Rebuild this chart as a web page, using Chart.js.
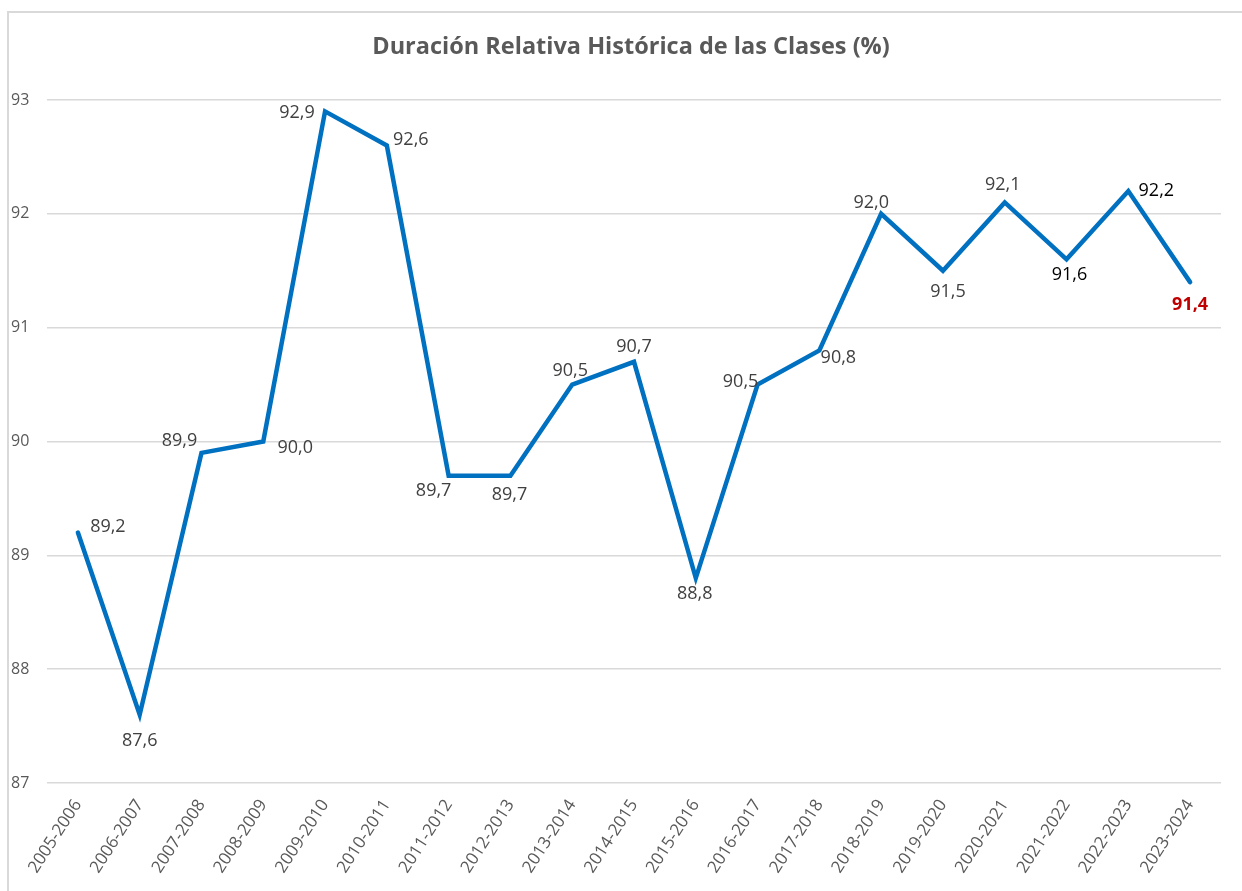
<!DOCTYPE html>
<html>
<head>
<meta charset="utf-8">
<script src="https://cdn.jsdelivr.net/npm/chart.js@4.4.1/dist/chart.umd.min.js"></script>
<style>
  html, body { margin: 0; padding: 0; background: #ffffff; overflow: hidden; }
  #frame { position: absolute; left: 7px; top: 11px; width: 1400px; height: 1000px;
           border-top: 2px solid #d9d9d9; border-left: 2px solid #d9d9d9; }
  #wrap { position: absolute; left: 0; top: 0; width: 1242px; height: 891px; }
</style>
</head>
<body>
<div id="frame"></div>
<div id="wrap"><canvas id="c" width="1242" height="891"></canvas></div>
<script>
// ---- data ----
const categories = ['2005-2006','2006-2007','2007-2008','2008-2009','2009-2010','2010-2011','2011-2012','2012-2013','2013-2014','2014-2015','2015-2016','2016-2017','2017-2018','2018-2019','2019-2020','2020-2021','2021-2022','2022-2023','2023-2024'];
const duracion = [89.2, 87.6, 89.9, 90.0, 92.9, 92.6, 89.7, 89.7, 90.5, 90.7, 88.8, 90.5, 90.8, 92.0, 91.5, 92.1, 91.6, 92.2, 91.4];
const yTicks = [87, 88, 89, 90, 91, 92, 93];
const chartTitle = 'Duración Relativa Histórica de las Clases (%)';

// ---- label styling (offsets from each point, in px) ----
const labelOffsets = [[30,-6],[0,26],[-22,-12],[32,6],[-28,1],[24,-6],[-15,15],[-1,19],[-2,-14],[0,-15],[-1,16],[-17,-3],[19,7],[-10,-11],[5,21],[-2,-18],[3,16],[28,0],[0,23]];
const labelColors = ['#404040','#404040','#404040','#404040','#404040','#404040','#404040','#404040','#404040','#404040','#404040','#404040','#404040','#404040','#404040','#404040','#000000','#000000','#C00000'];
const labelBold = [false,false,false,false,false,false,false,false,false,false,false,false,false,false,false,false,false,false,true];

const FONT = "'Open Sans', 'DejaVu Sans', sans-serif";

const titleText = {
  id: 'titleText',
  afterDraw(chart) {
    const ctx = chart.ctx;
    ctx.save();
    ctx.font = 'bold 23.5px ' + FONT;
    ctx.fillStyle = '#595959';
    ctx.textAlign = 'center';
    ctx.textBaseline = 'middle';
    ctx.fillText(chartTitle, 631, 47);
    ctx.restore();
  }
};

const dataLabels = {
  id: 'dataLabels',
  afterDatasetsDraw(chart) {
    const ctx = chart.ctx;
    const meta = chart.getDatasetMeta(0);
    ctx.save();
    ctx.textAlign = 'center';
    ctx.textBaseline = 'middle';
    meta.data.forEach((pt, i) => {
      const v = chart.data.datasets[0].data[i];
      const txt = v.toFixed(1).replace('.', ',');
      ctx.font = (labelBold[i] ? 'bold ' : '') + '18px ' + FONT;
      ctx.fillStyle = labelColors[i];
      ctx.fillText(txt, pt.x + labelOffsets[i][0], pt.y + labelOffsets[i][1]);
    });
    ctx.restore();
  }
};

new Chart(document.getElementById('c'), {
  type: 'line',
  data: {
    labels: categories,
    datasets: [{
      data: duracion,
      borderColor: '#0070C0',
      borderWidth: 4.5,
      pointRadius: 0,
      tension: 0,
      borderJoinStyle: 'miter',
      borderCapStyle: 'round',
      fill: false
    }]
  },
  options: {
    responsive: false,
    animation: false,
    devicePixelRatio: 1,
    layout: { padding: { left: 11, right: 21, top: 100, bottom: 0 } },
    plugins: {
      legend: { display: false },
      tooltip: { enabled: false },
      title: { display: false }
    },
    scales: {
      x: {
        offset: true,
        grid: { display: false, drawTicks: false },
        border: { display: false },
        ticks: {
          color: '#595959',
          font: { family: FONT, size: 17 },
          minRotation: 57,
          maxRotation: 57,
          padding: 13,
          autoSkip: false
        },
        afterFit(scale) { scale.height = 108; }
      },
      y: {
        min: 87,
        max: 93,
        afterBuildTicks(scale) { scale.ticks = yTicks.map(v => ({ value: v })); },
        grid: { color: '#d9d9d9', lineWidth: 1.5, drawTicks: false },
        border: { display: false },
        ticks: {
          color: '#595959',
          font: { family: FONT, size: 16 },
          crossAlign: 'far',
          padding: 8
        },
        afterFit(scale) { scale.width = 36; }
      }
    }
  },
  plugins: [dataLabels, titleText]
});
</script>
</body>
</html>
